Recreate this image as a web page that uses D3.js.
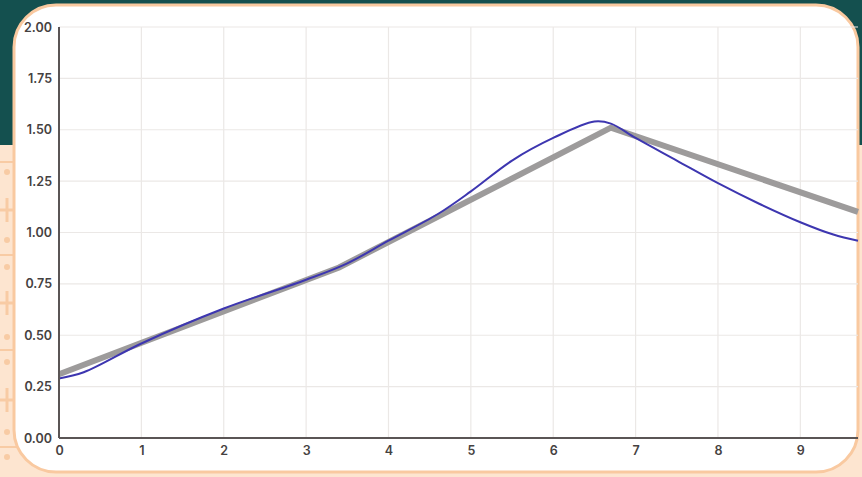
<!DOCTYPE html>
<html><head><meta charset="utf-8">
<script src="https://cdn.jsdelivr.net/npm/d3@7"></script>
<style>html,body{margin:0;padding:0;background:#fde5d0;}svg{display:block;}</style>
</head><body>
<svg id="c" width="862" height="477"></svg>
<script>
const xTicks = [0,1,2,3,4,5,6,7,8,9];
const yTicks = [0,0.25,0.5,0.75,1.0,1.25,1.5,1.75,2.0];
const grayX = [0, 3.4, 6.7, 9.7];
const grayY = [0.31, 0.83, 1.51, 1.10];
const blueX = [0,0.3,1.0,2.0,3.0,3.5,4.0,4.6,5.0,5.5,6.0,6.5,6.7,7.0,7.5,8.0,8.5,9.0,9.4,9.7];
const blueY = [0.29,0.32,0.46,0.63,0.77,0.85,0.96,1.09,1.20,1.35,1.46,1.54,1.53,1.46,1.35,1.24,1.14,1.05,0.99,0.96];

const svg = d3.select('#c');
// background
svg.append('rect').attr('x',0).attr('y',0).attr('width',862).attr('height',477).attr('fill','#fde5d0');
svg.append('rect').attr('x',0).attr('y',0).attr('width',862).attr('height',145).attr('fill','#14504f');
// decorations on left strip
const deco = svg.append('g').attr('fill','#f8cba4').attr('stroke','#f8cba4');
[162,255,350,447].forEach(y=>deco.append('line').attr('x1',0).attr('x2',40).attr('y1',y).attr('y2',y).attr('stroke-width',2));
[172,240,267,337,362,432,457].forEach(y=>deco.append('circle').attr('cx',7).attr('cy',y).attr('r',3).attr('stroke','none'));
[210,303,400].forEach(y=>{deco.append('line').attr('x1',7).attr('x2',7).attr('y1',y-12).attr('y2',y+12).attr('stroke-width',3);
  deco.append('line').attr('x1',0).attr('x2',14).attr('y1',y).attr('y2',y).attr('stroke-width',3);});
// card
svg.append('rect').attr('x',14).attr('y',5).attr('width',844).attr('height',467).attr('rx',42).attr('ry',42)
  .attr('fill','#ffffff').attr('stroke','#f9c9a0').attr('stroke-width',3);

const x = d3.scaleLinear().domain([0,9.7]).range([59,858]);
const y = d3.scaleLinear().domain([0,2]).range([438,27]);

const g = svg.append('g');
// grid
g.selectAll('.vg').data(xTicks.slice(1)).enter().append('line')
  .attr('x1',d=>x(d)).attr('x2',d=>x(d)).attr('y1',y(0)).attr('y2',y(2))
  .attr('stroke','#ebe8e6').attr('stroke-width',1.2);
g.selectAll('.hg').data(yTicks.slice(1)).enter().append('line')
  .attr('x1',x(0)).attr('x2',858).attr('y1',d=>y(d)).attr('y2',d=>y(d))
  .attr('stroke','#ebe8e6').attr('stroke-width',1.2);

// lines
const grayData = grayX.map((d,i)=>[d,grayY[i]]);
const blueData = blueX.map((d,i)=>[d,blueY[i]]);
g.append('path').datum(grayData)
  .attr('d',d3.line().x(d=>x(d[0])).y(d=>y(d[1])))
  .attr('fill','none').attr('stroke','#9d9b9b').attr('stroke-width',6).attr('stroke-linejoin','miter');
g.append('path').datum(blueData)
  .attr('d',d3.line().curve(d3.curveCatmullRom.alpha(0.5)).x(d=>x(d[0])).y(d=>y(d[1])))
  .attr('fill','none').attr('stroke','#3d36b0').attr('stroke-width',2);

// axes
const xa = g.append('g').attr('transform',`translate(0,${y(0)})`)
  .call(d3.axisBottom(x).tickValues(xTicks).tickFormat(d3.format('d')).tickSize(0).tickPadding(8));
const ya = g.append('g').attr('transform',`translate(${x(0)},0)`)
  .call(d3.axisLeft(y).tickValues(yTicks).tickFormat(d3.format('.2f')).tickSize(0).tickPadding(7));
[xa,ya].forEach(a=>{
  a.select('.domain').attr('stroke','#5a5555').attr('stroke-width',2);
  a.selectAll('text').attr('font-family','Inter, Liberation Sans, Arial, sans-serif').attr('font-size',12.5)
    .attr('fill','#454141').attr('font-weight',600);
});
ya.select('.domain').attr('d',`M0,${y(0)}V${y(2)}`);
xa.select('.domain').attr('d',`M${x(0)},0H858`);
</script>
</body></html>
